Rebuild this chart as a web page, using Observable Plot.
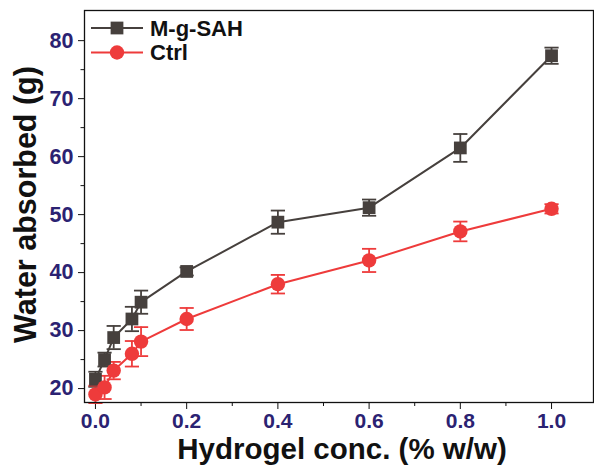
<!DOCTYPE html>
<html>
<head>
<meta charset="utf-8">
<script src="https://cdn.jsdelivr.net/npm/d3@7"></script>
<script src="https://cdn.jsdelivr.net/npm/@observablehq/plot@0.6"></script>
<style>
  html, body { margin: 0; padding: 0; background: #fff; }
  #chart { position: relative; width: 594px; height: 466px; }
</style>
</head>
<body>
<div id="chart"></div>
<script>
// Hydrogel concentration (% w/w)
const conc = [0, 0.02, 0.04, 0.08, 0.1, 0.2, 0.4, 0.6, 0.8, 1.0];

// Water absorbed (g) and standard deviations
const mgsahMean = [21.6, 25.0, 28.8, 32.0, 34.9, 40.2, 48.7, 51.2, 61.5, 77.4];
const mgsahErr  = [1.3, 1.2, 2.0, 2.1, 2.0, 0.7, 2.0, 1.4, 2.4, 1.4];
const ctrlMean  = [19.0, 20.2, 23.1, 26.0, 28.1, 32.0, 38.0, 42.1, 47.1, 51.0];
const ctrlErr   = [1.5, 2.0, 1.5, 2.2, 2.5, 1.9, 1.6, 2.0, 1.7, 0.8];

const seriesNames = ["M-g-SAH", "Ctrl"];
const seriesColors = ["#46403d", "#ee3b3b"];
const seriesSymbols = ["square", "circle"];

const xTicks = [0, 0.2, 0.4, 0.6, 0.8, 1.0];
const xMinor = [0.1, 0.3, 0.5, 0.7, 0.9];
const yTicks = [20, 30, 40, 50, 60, 70, 80];
const yMinor = [25, 35, 45, 55, 65, 75];

const rows = [];
[[mgsahMean, mgsahErr], [ctrlMean, ctrlErr]].forEach(([m, e], s) => {
  conc.forEach((c, i) => rows.push({series: seriesNames[s], x: c, y: m[i], lo: m[i] - e[i], hi: m[i] + e[i]}));
});

// horizontal cap for error bars
const cap = {draw(ctx, size) { const w = Math.sqrt(size) * 0.5; ctx.moveTo(-w, 0); ctx.lineTo(w, 0); }};

const navy = "#2b2272";
const font = "'Liberation Sans', Arial, sans-serif";

const plot = Plot.plot({
  width: 594,
  height: 466,
  marginLeft: 84,
  marginRight: 1,
  marginTop: 10,
  marginBottom: 64,
  style: {fontFamily: font, background: "white", overflow: "visible"},
  x: {domain: [-0.024, 1.092]},
  y: {domain: [17.6, 85.2]},
  color: {domain: seriesNames, range: seriesColors},
  symbol: {domain: seriesNames, range: seriesSymbols},
  marks: [
    Plot.axisX({ticks: xTicks, tickSize: 7, tickPadding: 4, tickFormat: d3.format(".1f"),
      fill: navy, stroke: "#111", fontSize: 21, fontWeight: "bold", label: null}),
    Plot.axisX({ticks: xMinor, tickSize: 4, fill: "none", stroke: "#111", label: null}),
    Plot.axisY({ticks: yTicks, tickSize: 6, tickPadding: 5,
      fill: navy, stroke: "#111", fontSize: 21.5, fontWeight: "bold", label: null}),
    Plot.axisY({ticks: yMinor, tickSize: 3.5, fill: "none", stroke: "#111", label: null}),
    Plot.text(["Hydrogel conc. (% w/w)"], {frameAnchor: "bottom", textAnchor: "middle", lineAnchor: "middle",
      dx: 3, dy: 47, fontSize: 29.5, fontWeight: "bold", fill: "#111"}),
    Plot.text(["Water absorbed (g)"], {frameAnchor: "left", textAnchor: "middle", lineAnchor: "middle",
      dx: -58.5, dy: -2, rotate: -90, fontSize: 30.5, fontWeight: "bold", fill: "#111"}),
    Plot.line(rows, {x: "x", y: "y", z: "series", stroke: "series", strokeWidth: 2}),
    Plot.ruleX(rows, {x: "x", y1: "lo", y2: "hi", stroke: "series", strokeWidth: 1.8}),
    Plot.dot(rows, {x: "x", y: "lo", symbol: cap, r: 8, stroke: "series", strokeWidth: 1.8}),
    Plot.dot(rows, {x: "x", y: "hi", symbol: cap, r: 8, stroke: "series", strokeWidth: 1.8}),
    Plot.dot(rows, {x: "x", y: "y", symbol: "series", fill: "series", r: 7.2, stroke: "none"}),
    Plot.frame({stroke: "#111", strokeWidth: 1.3})
  ]
});

document.getElementById("chart").appendChild(plot);

// legend in the upper-left corner of the plot area
const svg = d3.select(plot);
const legend = svg.append("g").attr("font-family", font).attr("text-anchor", "start");
seriesNames.forEach((name, i) => {
  const cy = 28 + i * 24.5;
  const g = legend.append("g").attr("transform", `translate(91,${cy})`);
  g.append("line").attr("x1", 0).attr("x2", 52).attr("stroke", seriesColors[i]).attr("stroke-width", 2);
  const sym = seriesSymbols[i] === "square" ? d3.symbolSquare : d3.symbolCircle;
  g.append("path").attr("transform", "translate(26,0)")
    .attr("d", d3.symbol(sym, Math.PI * 7.2 * 7.2)()).attr("fill", seriesColors[i]);
  g.append("text").attr("x", 59).attr("dy", "0.35em").attr("font-size", 22).attr("font-weight", "bold")
    .attr("fill", "#111").text(name);
});
</script>
</body>
</html>
